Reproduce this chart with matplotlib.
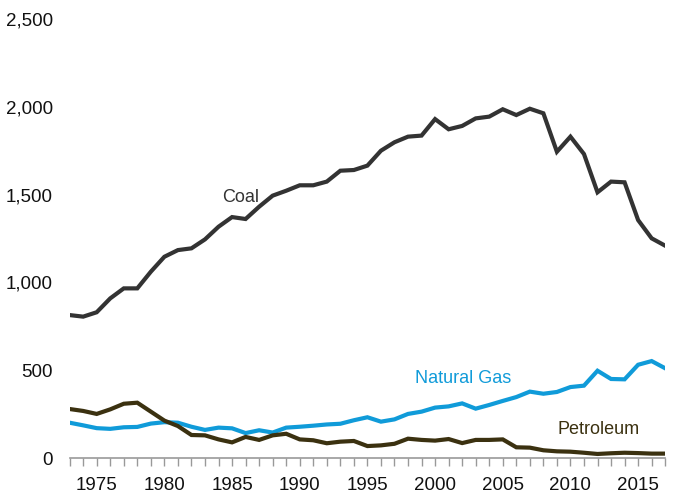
import matplotlib
matplotlib.use("Agg")
import matplotlib.pyplot as plt
from matplotlib.ticker import FuncFormatter, MultipleLocator

plt.rcParams['font.family'] = ['Liberation Sans', 'DejaVu Sans']

years = list(range(1973, 2018))

coal = [814, 805, 830, 909, 966, 966, 1061, 1146, 1184, 1194,
        1245, 1317, 1372, 1361, 1431, 1494, 1522, 1553, 1553, 1574,
        1636, 1640, 1665, 1750, 1798, 1830, 1836, 1930, 1872, 1891,
        1934, 1944, 1986, 1953, 1989, 1963, 1744, 1830, 1731, 1513,
        1574, 1570, 1355, 1251, 1209]

natural_gas = [201, 186, 170, 166, 175, 177, 196, 204, 201, 178,
               160, 173, 169, 142, 158, 145, 173, 178, 184, 191,
               195, 215, 232, 207, 220, 251, 264, 287, 294, 311,
               281, 302, 325, 347, 378, 366, 376, 404, 412, 497,
               450, 448, 531, 552, 511]

petroleum = [279, 268, 251, 277, 309, 315, 264, 213, 182, 131,
             129, 106, 89, 120, 103, 129, 138, 106, 101, 84,
             93, 97, 68, 72, 81, 110, 103, 99, 108, 85,
             103, 103, 106, 61, 59, 44, 38, 36, 30, 23,
             27, 30, 28, 25, 25]

series_names = ["Coal", "Natural Gas", "Petroleum"]
x_tick_labels = [1975, 1980, 1985, 1990, 1995, 2000, 2005, 2010, 2015]
y_ticks = [0, 500, 1000, 1500, 2000, 2500]

colors = {"Coal": "#333333", "Natural Gas": "#109bd9", "Petroleum": "#3b3110"}
label_pos = {"Coal": (1985.6, 1486), "Natural Gas": (2002.1, 455), "Petroleum": (2012.1, 165)}

fig = plt.figure(figsize=(6.76, 4.96), dpi=100)
ax = fig.add_axes([0.103, 0.0766, 0.881, 0.8851])

for name, vals in zip(series_names, [coal, natural_gas, petroleum]):
    ax.plot(years, vals, color=colors[name], lw=3.0, solid_joinstyle='miter')
    lx, ly = label_pos[name]
    ax.text(lx, ly, name, color=colors[name], fontsize=13, ha='center', va='center')

ax.set_xlim(1973, 2017)
ax.set_ylim(0, 2500)

ax.set_yticks(y_ticks)
ax.yaxis.set_major_formatter(FuncFormatter(lambda v, p: f"{int(v):,}"))
ax.tick_params(axis='y', length=0, labelsize=13.5, pad=12, labelcolor='#111111')

ax.set_xticks(x_tick_labels)
ax.set_xticklabels([str(y) for y in x_tick_labels])
ax.xaxis.set_minor_locator(MultipleLocator(1))
ax.tick_params(axis='x', which='both', direction='out', length=6, width=1,
               color='#999999', labelsize=13.5, labelcolor='#111111', pad=8)

for s in ['top', 'right', 'left']:
    ax.spines[s].set_visible(False)
ax.spines['bottom'].set_color('#999999')
ax.spines['bottom'].set_linewidth(1.2)

fig.savefig("out.png", dpi=100)
